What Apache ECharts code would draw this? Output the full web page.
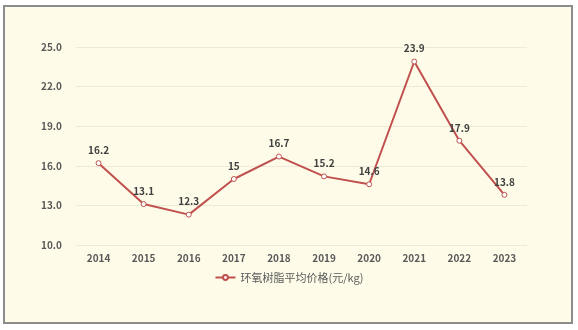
<!DOCTYPE html>
<html>
<head>
<meta charset="utf-8">
<script src="https://cdn.jsdelivr.net/npm/echarts@6/dist/echarts.min.js"></script>
<style>
  html, body { margin: 0; padding: 0; background: #ffffff; }
  #frame {
    position: absolute; left: 3px; top: 5px; width: 566px; height: 315px;
    background: #fefce9; border: 2px solid #8c8c8c;
  }
  #chart { position: absolute; left: 0; top: 0; width: 578px; height: 330px; }
</style>
</head>
<body>
<div id="frame"></div>
<div id="chart"></div>
<script>
// Average epoxy resin price by year (yuan/kg)
const years = ['2014', '2015', '2016', '2017', '2018', '2019', '2020', '2021', '2022', '2023'];
const prices = [16.2, 13.1, 12.3, 15, 16.7, 15.2, 14.6, 23.9, 17.9, 13.8];
const seriesName = '环氧树脂平均价格(元/kg)';
const yMin = 10, yMax = 25, yStep = 3;

const chart = echarts.init(document.getElementById('chart'), null, { renderer: 'canvas' });
const fontFamily = '"Noto Sans CJK SC", "DejaVu Sans", sans-serif';
chart.setOption({
  backgroundColor: 'transparent',
  animation: false,
  grid: { left: 76, right: 51, top: 47, bottom: 85 },
  legend: {
    data: [seriesName],
    bottom: 42,
    left: 'center',
    itemWidth: 20,
    itemHeight: 6,
    itemGap: 4,
    textStyle: { color: '#595959', fontSize: 11, fontFamily: fontFamily }
  },
  xAxis: {
    type: 'category',
    data: years,
    boundaryGap: true,
    axisLine: { show: false },
    axisTick: { show: false },
    axisLabel: { color: '#595959', fontSize: 10, fontWeight: 'bold', margin: 8, fontFamily: fontFamily }
  },
  yAxis: {
    type: 'value',
    min: yMin, max: yMax, interval: yStep,
    axisLine: { show: false },
    axisTick: { show: false },
    splitLine: { lineStyle: { color: '#ecebd8', width: 1 } },
    axisLabel: {
      color: '#595959', fontSize: 10, fontWeight: 'bold', margin: 14, fontFamily: fontFamily,
      formatter: v => v.toFixed(1)
    }
  },
  series: [{
    name: seriesName,
    type: 'line',
    data: prices,
    symbol: 'circle',
    symbolSize: 5,
    lineStyle: { color: '#c0504d', width: 2 },
    itemStyle: { color: '#ffffff', borderColor: '#c0504d', borderWidth: 1 },
    label: {
      show: true, position: 'top', distance: 5,
      color: '#404040', fontSize: 10, fontWeight: 'bold', fontFamily: fontFamily
    }
  }]
});
</script>
</body>
</html>
